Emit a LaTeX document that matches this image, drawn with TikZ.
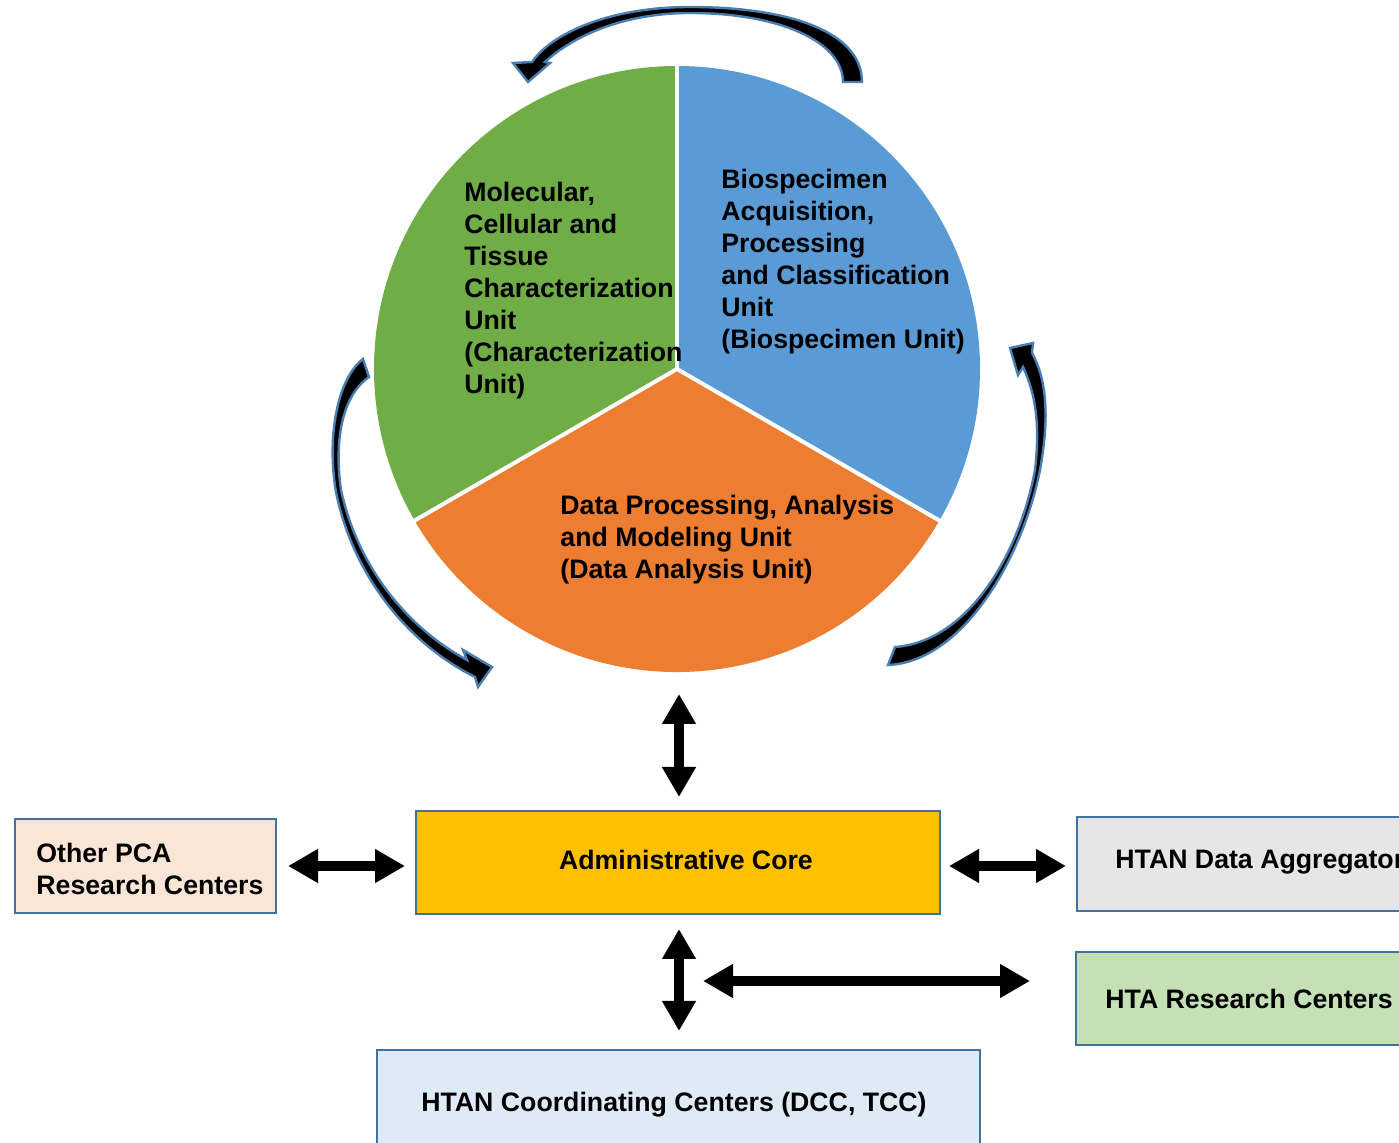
\documentclass[tikz,border=0pt]{standalone}
\usepackage{fontspec}
\setmainfont{Liberation Sans}
\usetikzlibrary{arrows.meta,calc}
\definecolor{pgreen}{HTML}{70AD47}
\definecolor{pblue}{HTML}{5B9BD5}
\definecolor{porange}{HTML}{ED7D31}
\definecolor{edgeblue}{HTML}{41719C}
\definecolor{arrblue}{HTML}{4A7EB0}
\definecolor{fpeach}{HTML}{FBE5D6}
\definecolor{fgold}{HTML}{FFC000}
\definecolor{fgrey}{HTML}{E7E6E6}
\definecolor{fgreen}{HTML}{C5E0B4}
\definecolor{flblue}{HTML}{DEEBF7}
\begin{document}
\begin{tikzpicture}[x=0.5pt,y=-0.5pt,
  every node/.style={font=\bfseries\fontsize{13.35}{16}\selectfont},
  box/.style={draw=edgeblue, line width=1pt, inner sep=0pt},
  txt/.style={inner sep=0pt, align=left},
  dbl/.style={line width=5pt, {Triangle[width=16pt,length=15pt]}-{Triangle[width=16pt,length=15pt]}},
  curv/.style={fill=black, draw=arrblue, line width=1.2pt, line join=miter},
  sep/.style={white, line width=2pt}]
\useasboundingbox (0,0) rectangle (1399,1143);
% pie
\coordinate (ctr) at (677,369);
\coordinate (pieS) at (677,672);
\fill[pgreen] (ctr) -- (677,66) arc[start angle=270, end angle=150, radius=303] -- cycle;
\fill[pblue] (ctr) -- (677,66) arc[start angle=270, end angle=390, radius=303] -- cycle;
\fill[porange] (ctr) -- (939.4,520.5) arc[start angle=30, end angle=150, radius=303] -- cycle;
\draw[sep] (ctr) -- (677,64);
\draw[sep] (ctr) -- (413,521.5);
\draw[sep] (ctr) -- (941,521.5);
% pie texts
\node[txt, anchor=north west] (tgreen) at (464,182) {Molecular,\\Cellular and\\Tissue\\Characterization\\Unit\\(Characterization\\Unit)};
\node[txt, anchor=north west] (tblue) at (721,169) {Biospecimen\\Acquisition,\\Processing\\and Classification\\Unit\\(Biospecimen Unit)};
\node[txt, anchor=north west] (torange) at (560,495) {Data Processing, Analysis\\and Modeling Unit\\(Data Analysis Unit)};
% curved arrows
\draw[curv] (862,82) .. controls (862,32) and (790,7) .. (690,7)
  .. controls (610,7) and (552,33) .. (532,62)
  -- (513,63) -- (528,82) -- (550,63) -- (545,62)
  .. controls (572,37) and (622,13) .. (690,13)
  .. controls (780,13) and (843,42) .. (843,82) -- cycle;
\draw[curv] (363,359) .. controls (336,380) and (327,440) .. (336,492)
  .. controls (352,572) and (405,642) .. (475,677)
  -- (478,687) -- (492,667) -- (463,650) -- (467,660)
  .. controls (408,628) and (358,568) .. (341,490)
  .. controls (334,440) and (342,396) .. (369,377) -- cycle;
\draw[curv] (888,665) .. controls (962,662) and (1022,560) .. (1040,470)
  .. controls (1050,415) and (1046,378) .. (1032,353)
  -- (1033,343) -- (1010,348) -- (1018,375) -- (1023,367)
  .. controls (1036,395) and (1040,425) .. (1035,470)
  .. controls (1018,560) and (965,642) .. (895,647) -- cycle;
% boxes
\node[box, fill=fpeach, minimum width=130.5pt, minimum height=47pt] (other) at (145.5,866) {};
\node[txt, anchor=north west] (tother) at (36,843) {Other PCA\\Research Centers};
\node[box, fill=fgold, minimum width=262pt, minimum height=51.5pt] (admin) at (678,862.5) {};
\node[inner sep=0pt, anchor=base] (tadmin) at (686,869.5) {Administrative Core};
\node[box, fill=fgrey, minimum width=171.5pt, minimum height=47pt] (agg) at (1248.5,864) {};
\node[inner sep=0pt, anchor=base west] (tagg) at (1115,868.5) {HTAN Data Aggregator};
\node[box, fill=fgreen, minimum width=172pt, minimum height=46.5pt] (hta) at (1248,998.5) {};
\node[inner sep=0pt, anchor=base west] (thta) at (1105,1008.5) {HTA Research Centers};
\node[box, fill=flblue, minimum width=301.5pt, minimum height=55pt] (coord) at (678.5,1105) {};
\node[inner sep=0pt, anchor=base] (tcoord) at (674,1111.5) {HTAN Coordinating Centers (DCC, TCC)};
% straight arrows
\coordinate (hub) at (703,981);
\draw[dbl] ([shift={(2,22)}]pieS) -- ([shift={(1,-13)}]admin.north);
\draw[dbl] ([shift={(11,0)}]other.east) -- ([shift={(-10,3.5)}]admin.west);
\draw[dbl] ([shift={(8,3.5)}]admin.east) -- ([shift={(-10,2)}]agg.west);
\draw[dbl] ([shift={(1,14)}]admin.south) -- ([shift={(0.5,-18)}]coord.north);
\draw[dbl] (hub) -- ([shift={(-45,-17.5)}]hta.west);
\end{tikzpicture}
\end{document}
